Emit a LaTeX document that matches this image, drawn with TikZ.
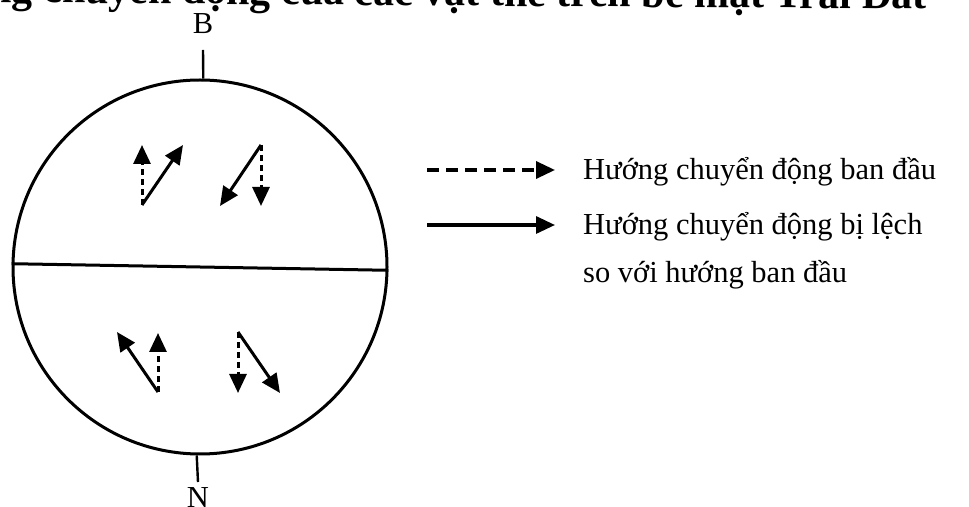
\documentclass[tikz,border=0pt]{standalone}
\usepackage{fontspec}
\setmainfont{Liberation Serif}
\usetikzlibrary{arrows.meta}

\begin{document}
\begin{tikzpicture}[x=1pt, y=1pt, >={Triangle[length=19pt,width=17pt]},
  lech/.style={->, line width=3pt},
  bandau/.style={->, line width=3pt, dash pattern=on 6pt off 4pt},
  nhan/.style={font=\fontsize{30.5}{48}\selectfont, inner sep=0pt}]

  \useasboundingbox (0,0) rectangle (969,506);
  \clip (0,0) rectangle (969,506);

  % --- 1. Tiêu đề (bị cắt ở mép trên) ---
  \node[anchor=base east, inner sep=0pt, rotate=-0.4,
    font=\bfseries\fontsize{42}{50}\selectfont] (tieude) at (927,497)
    {hướng chuyển động của các vật thể trên bề mặt Trái Đất};

  % --- 2. Trái Đất, xích đạo và hai cực ---
  \node[circle, draw, line width=3pt, minimum size=374pt, inner sep=0pt] (earth) at (200,239) {};
  \draw[line width=3pt] (earth.179) -- (earth.-1);

  \node[nhan, anchor=base] (B) at (203,472) {B};
  \coordinate (dauB) at (203,456);
  \draw[line width=2.4pt] (earth.89) -- (dauB);

  \node[nhan, anchor=base] (N) at (198,-1) {N};
  \coordinate (dauN) at (198,24);
  \draw[line width=2.4pt] (earth.269) -- (dauN);

  % --- 3. Bán cầu Bắc: lệch sang phải ---
  \coordinate (b1) at (142,301);
  \coordinate (b1d) at (142,361);
  \coordinate (b1l) at (183,361);
  \draw[bandau] (b1) -- (b1d);
  \draw[lech] (b1) -- (b1l);

  \coordinate (b2) at (261,361);
  \coordinate (b2d) at (261,300);
  \coordinate (b2l) at (220,300);
  \draw[bandau] (b2) -- (b2d);
  \draw[lech] (b2) -- (b2l);

  % --- 4. Bán cầu Nam: lệch sang trái ---
  \coordinate (n1) at (158,114);
  \coordinate (n1d) at (158,173);
  \coordinate (n1l) at (117,174);
  \draw[bandau] (n1) -- (n1d);
  \draw[lech] (n1) -- (n1l);

  \coordinate (n2) at (238,174);
  \coordinate (n2d) at (238,113);
  \coordinate (n2l) at (280,113);
  \draw[bandau] (n2) -- (n2d);
  \draw[lech] (n2) -- (n2l);

  % --- 5. Chú giải ---
  \node[nhan, anchor=base west] (ghichu1) at (583,326) {Hướng chuyển động ban đầu};
  \node[nhan, anchor=base west] (ghichu2) at (583,271) {Hướng chuyển động bị lệch};
  \node[nhan, anchor=base west] (ghichu3) at (583,223) {so với hướng ban đầu};

  \coordinate (gc1a) at (427,336);
  \coordinate (gc1b) at (555,336);
  \draw[bandau, line width=3.4pt, dash pattern=on 12pt off 7pt] (gc1a) -- (gc1b);

  \coordinate (gc2a) at (427,281);
  \coordinate (gc2b) at (555,281);
  \draw[lech, line width=3.2pt] (gc2a) -- (gc2b);

\end{tikzpicture}
\end{document}
